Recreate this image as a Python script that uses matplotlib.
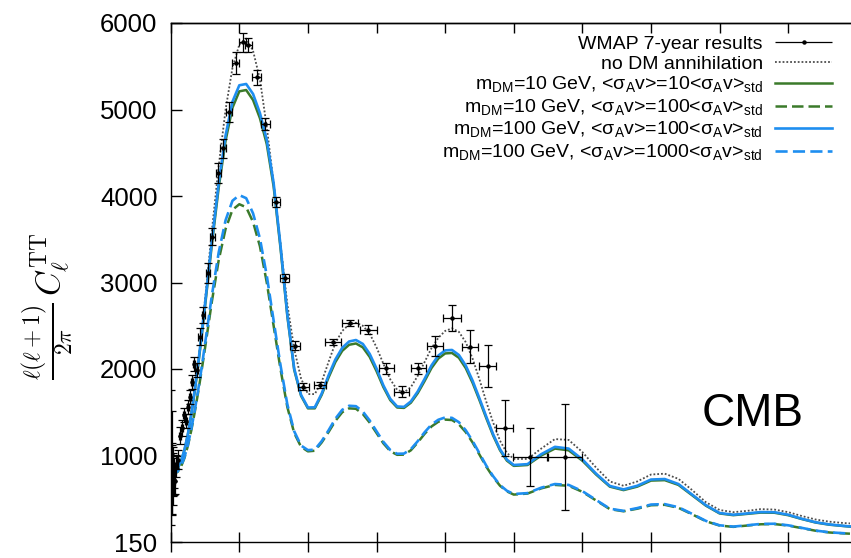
import matplotlib
matplotlib.use('Agg')
import matplotlib.pyplot as plt
from matplotlib.legend_handler import HandlerErrorbar

plt.rcParams['font.family'] = ['Liberation Sans', 'DejaVu Sans']

# ── Model spectra ── #
ell = [2, 5, 10, 15, 20, 30, 40, 50, 60, 70, 80, 90,
       100, 120, 140, 160, 180, 200, 220, 240, 260, 280, 300, 320, 340, 360,
       380, 400, 420, 440, 460, 480, 500, 520, 540, 560, 580, 600, 620, 640,
       660, 680, 700, 720, 740, 760, 780, 800, 820, 840, 860, 880, 900, 920,
       940, 960, 980, 1000,
       1040, 1080, 1120, 1160, 1200, 1240, 1280, 1320, 1360, 1400, 1440, 1480,
       1520, 1560, 1600, 1640, 1680, 1720, 1760, 1800, 1840, 1880, 1920, 1960, 1980]

no_dm = [1100, 900, 830, 820, 840, 920, 1050, 1230, 1470, 1750, 2070, 2420,
         2800, 3600, 4350, 5000, 5480, 5750, 5820, 5680, 5350, 4800, 4150, 3450, 2750, 2230,
         1890, 1710, 1710, 1850, 2080, 2300, 2440, 2515, 2535, 2500, 2410, 2250, 2060, 1880,
         1760, 1730, 1790, 1920, 2080, 2240, 2360, 2440, 2470, 2430, 2310, 2120, 1880, 1620,
         1380, 1170, 1030, 960,
         960, 1080, 1190, 1180, 1040, 860, 700, 650, 700, 780, 790, 730,
         600, 460, 370, 345, 360, 380, 375, 345, 300, 260, 235, 220, 215]

m10_x10 = [1080, 900, 840, 830, 850, 930, 1060, 1240, 1470, 1740, 2040, 2370,
           2720, 3440, 4100, 4640, 5020, 5210, 5225, 5110, 4900, 4600, 4110, 3400, 2610, 1990,
           1690, 1545, 1545, 1700, 1900, 2080, 2210, 2280, 2295, 2250, 2140, 1975, 1790, 1640,
           1555, 1550, 1610, 1720, 1860, 2010, 2120, 2180, 2185, 2130, 2010, 1840, 1640, 1430,
           1230, 1060, 940, 880,
           890, 1000, 1080, 1060, 940, 780, 640, 600, 640, 710, 715, 660,
           540, 420, 330, 310, 325, 340, 338, 310, 265, 225, 200, 185, 178]

m10_x100 = [1060, 880, 810, 800, 810, 870, 970, 1110, 1290, 1500, 1730, 1980,
            2240, 2780, 3260, 3620, 3840, 3905, 3870, 3700, 3420, 3000, 2500, 2000, 1560, 1260,
            1100, 1048, 1055, 1150, 1270, 1400, 1500, 1545, 1540, 1480, 1380, 1260, 1140, 1050,
            1008, 1010, 1060, 1150, 1250, 1335, 1390, 1415, 1410, 1360, 1270, 1150, 1010, 870,
            750, 650, 585, 548,
            560, 620, 660, 650, 580, 480, 380, 355, 385, 425, 430, 395,
            320, 240, 190, 175, 190, 205, 207, 190, 160, 130, 110, 100, 96]

m100_x100 = [1085, 905, 845, 835, 855, 935, 1065, 1245, 1480, 1755, 2060, 2395,
             2750, 3480, 4150, 4700, 5090, 5280, 5295, 5180, 4960, 4650, 4150, 3430, 2630, 2005,
             1700, 1555, 1557, 1715, 1925, 2110, 2245, 2318, 2335, 2290, 2175, 2005, 1810, 1655,
             1567, 1562, 1625, 1740, 1885, 2040, 2155, 2215, 2220, 2162, 2040, 1865, 1660, 1448,
             1245, 1072, 952, 890,
             900, 1015, 1100, 1080, 955, 790, 648, 608, 650, 722, 728, 670,
             548, 426, 335, 315, 330, 346, 344, 315, 268, 228, 203, 187, 180]

m100_x1000 = [1065, 885, 815, 805, 815, 878, 980, 1122, 1305, 1520, 1755, 2010,
              2290, 2850, 3350, 3720, 3945, 4010, 3975, 3800, 3510, 3080, 2560, 2045, 1590, 1280,
              1115, 1062, 1068, 1165, 1290, 1425, 1528, 1575, 1570, 1508, 1405, 1280, 1157, 1064,
              1020, 1022, 1073, 1165, 1268, 1357, 1413, 1440, 1435, 1385, 1292, 1168, 1025, 882,
              760, 658, 592, 555,
              565, 628, 670, 660, 588, 486, 385, 360, 392, 433, 438, 402,
              325, 244, 193, 178, 193, 209, 211, 193, 163, 132, 112, 102, 97]

# ── WMAP 7-year binned points ── #
wmap_l = [2, 3, 4, 5, 6, 7, 8, 9, 10, 12, 15, 20, 27, 33, 39, 45, 51, 56, 61, 68,
          76, 85, 95, 108, 121, 139, 153, 170, 190, 210, 226, 251, 276, 307, 333,
          362, 387, 435, 474, 523, 576, 628, 673, 722, 771, 819, 873, 924, 973,
          1048, 1150]
wmap_D = [700, 1010, 720, 850, 780, 650, 900, 720, 800, 700, 880, 950, 1230, 1318,
          1468, 1400, 1560, 1680, 1850, 2060, 1990, 2374, 2624, 3106, 3530, 4270,
          4551, 4975, 5534, 5780, 5746, 5372, 4829, 3934, 3049, 2266, 1795, 1815,
          2316, 2528, 2451, 2008, 1738, 2008, 2266, 2590, 2258, 2038, 1321, 986, 986]
wmap_dl = [0.5, 0.5, 0.5, 0.5, 0.5, 0.5, 0.5, 0.5, 0.5, 1, 1.5, 2, 3, 3, 3, 3, 3, 3,
           3, 4, 4, 5, 5, 6, 7, 8, 8, 9, 10, 10, 10, 13, 14, 12, 13, 15, 15, 18, 23,
           23, 24, 22, 22, 23, 24, 26, 24, 24, 26, 50, 50]
wmap_lo = [500, 700, 400, 300, 250, 220, 200, 180, 170, 150, 130, 110, 95, 90, 85,
           80, 80, 80, 80, 80, 85, 95, 95, 115, 95, 115, 110, 115, 125, 110, 85, 87,
           68, 58, 48, 52, 40, 35, 35, 35, 52, 62, 60, 62, 110, 145, 193, 245, 321,
           339, 616]
wmap_hi = [1060, 500, 400, 300, 250, 220, 200, 180, 170, 150, 130, 110, 95, 90, 85,
           80, 80, 80, 80, 80, 85, 95, 95, 115, 95, 115, 110, 115, 125, 110, 85, 87,
           68, 58, 48, 52, 40, 35, 35, 35, 52, 62, 60, 62, 110, 145, 193, 245, 321,
           335, 609]

xticks = [0, 200, 400, 600, 800, 1000, 1200, 1400, 1600, 1800]
yticks = [0, 1000, 2000, 3000, 4000, 5000, 6000]
ytick_labels = ['150', '1000', '2000', '3000', '4000', '5000', '6000']

green = '#3b7a2a'
blue = '#1e8ef0'

fig = plt.figure(figsize=(8.51, 5.58), dpi=100)
ax = fig.add_axes([170.7 / 851, 16 / 558, 1 - 170.7 / 851, 519 / 558])

ax.plot(ell, no_dm, color='#4d4d4d', lw=1.3, linestyle=(0, (1, 1.1)),
        label='no DM annihilation', zorder=2)
ax.plot(ell, m10_x10, color=green, lw=1.8, zorder=3,
        label=r'm$_{\mathregular{DM}}$=10 GeV, <σ$_{\mathregular{A}}$v>=10<σ$_{\mathregular{A}}$v>$_{\mathregular{std}}$')
ax.plot(ell, m10_x100, color=green, lw=1.8, dashes=(4.6, 2.0), zorder=3,
        label=r'm$_{\mathregular{DM}}$=10 GeV, <σ$_{\mathregular{A}}$v>=100<σ$_{\mathregular{A}}$v>$_{\mathregular{std}}$')
ax.plot(ell, m100_x100, color=blue, lw=1.9, zorder=4,
        label=r'm$_{\mathregular{DM}}$=100 GeV, <σ$_{\mathregular{A}}$v>=100<σ$_{\mathregular{A}}$v>$_{\mathregular{std}}$')
ax.plot(ell, m100_x1000, color=blue, lw=1.9, dashes=(4.6, 2.0), zorder=4,
        label=r'm$_{\mathregular{DM}}$=100 GeV, <σ$_{\mathregular{A}}$v>=1000<σ$_{\mathregular{A}}$v>$_{\mathregular{std}}$')

ax.errorbar(wmap_l, wmap_D, xerr=wmap_dl, yerr=[wmap_lo, wmap_hi], fmt='o', ms=2.2,
            color='black', ecolor='black', elinewidth=0.9, capsize=3, capthick=0.9, zorder=5)

# legend proxy: horizontal bar only, like gnuplot
err_proxy = ax.errorbar([], [], xerr=[], fmt='o', ms=2.2, color='black',
                        elinewidth=0.9, capsize=3, capthick=0.9, label='WMAP 7-year results')

ax.set_xlim(0, 1983)
ax.set_ylim(0, 6000)
ax.set_xticks(xticks)
ax.set_xticklabels([])
ax.set_yticks(yticks)
ax.set_yticklabels(ytick_labels, fontsize=18.5)
ax.tick_params(axis='x', direction='inout', length=14.4, width=1.0, bottom=True, top=False)
ax.tick_params(axis='y', direction='in', length=7.6, width=1.0, pad=9.5)
ax.spines['right'].set_visible(False)
for s in ['left', 'bottom', 'top']:
    ax.spines[s].set_linewidth(1.0)

secax = ax.secondary_xaxis('top')
secax.set_xticks(xticks)
secax.set_xticklabels([])
secax.tick_params(direction='in', length=7.2, width=1.0)
secax.spines['top'].set_linewidth(1.0)

ax.set_ylabel(r'$\frac{\ell(\ell+1)}{2\pi}\,\mathit{C}_{\ell}^{\mathrm{TT}}$',
              fontsize=24, math_fontfamily='cm', va='center')
ax.yaxis.set_label_coords(-0.18, 0.455)

ax.text(0.856, 0.2466, 'CMB', transform=ax.transAxes, fontsize=33,
        ha='center', va='center')

handles, labels = ax.get_legend_handles_labels()
order = [labels.index('WMAP 7-year results')] + [i for i, l in enumerate(labels) if l != 'WMAP 7-year results']
handles = [handles[i] for i in order]
labels = [labels[i] for i in order]
leg = ax.legend(handles, labels, loc='upper right', bbox_to_anchor=(832 / 851, 1 - 35 / 558),
                bbox_transform=fig.transFigure, frameon=False, fontsize=14,
                markerfirst=False, handlelength=2.93, handletextpad=0.62,
                borderpad=0, borderaxespad=0, labelspacing=0.12,
                handler_map={err_proxy: HandlerErrorbar(xerr_size=1.46)})

fig.savefig('out.png', dpi=100)
